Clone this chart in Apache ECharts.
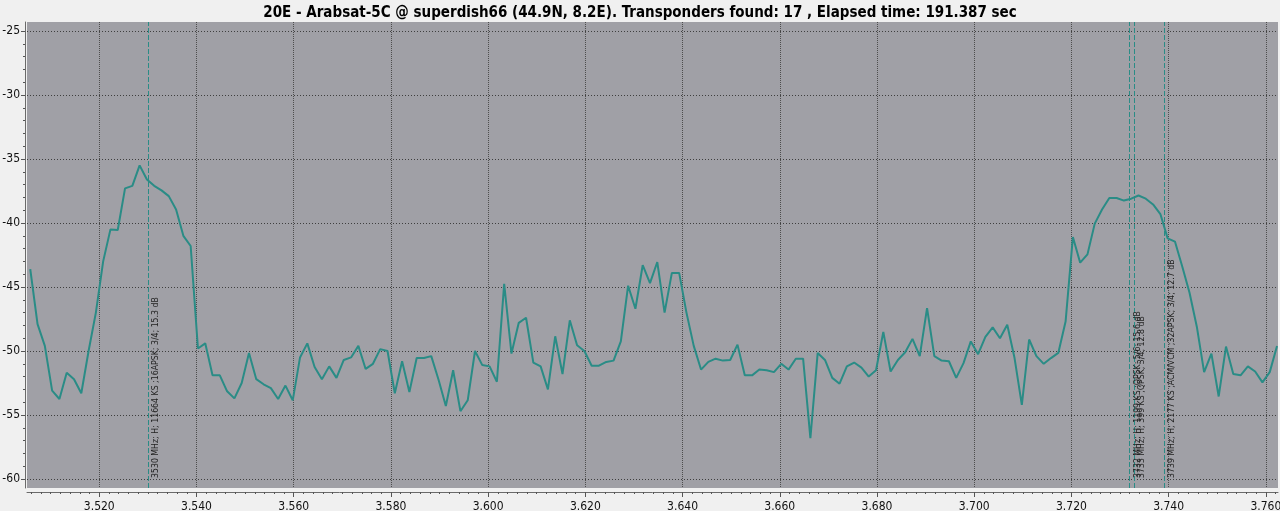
<!DOCTYPE html>
<html>
<head>
<meta charset="utf-8">
<script src="https://cdn.jsdelivr.net/npm/echarts@6/dist/echarts.min.js"></script>
<style>
html,body{margin:0;padding:0;background:#f0f0f0;}
#chart{width:1280px;height:511px;}
</style>
</head>
<body>
<div id="chart"></div>
<script>
// Sweep frequencies (MHz)
const freqMHz = [
3505.8,3507.3,3508.8,3510.3,3511.8,3513.3,3514.8,3516.3,3517.8,3519.3,
3520.8,3522.3,3523.8,3525.3,3526.8,3528.3,3529.8,3531.3,3532.8,3534.3,
3535.8,3537.3,3538.8,3540.3,3541.8,3543.3,3544.8,3546.3,3547.8,3549.3,
3550.8,3552.3,3553.8,3555.3,3556.8,3558.3,3559.8,3561.3,3562.8,3564.3,
3565.8,3567.3,3568.8,3570.3,3571.8,3573.3,3574.8,3576.3,3577.8,3579.3,
3580.8,3582.3,3583.8,3585.3,3586.8,3588.3,3589.8,3591.3,3592.8,3594.3,
3595.8,3597.3,3598.8,3600.3,3601.8,3603.3,3604.8,3606.3,3607.8,3609.3,
3610.8,3612.3,3613.8,3615.3,3616.8,3618.3,3619.8,3621.3,3622.8,3624.3,
3625.8,3627.3,3628.8,3630.3,3631.8,3633.3,3634.8,3636.3,3637.8,3639.3,
3640.8,3642.3,3643.8,3645.3,3646.8,3648.3,3649.8,3651.3,3652.8,3654.3,
3655.8,3657.3,3658.8,3660.3,3661.8,3663.3,3664.8,3666.3,3667.8,3669.3,
3670.8,3672.3,3673.8,3675.3,3676.8,3678.3,3679.8,3681.3,3682.8,3684.3,
3685.8,3687.3,3688.8,3690.3,3691.8,3693.3,3694.8,3696.3,3697.8,3699.3,
3700.8,3702.3,3703.8,3705.3,3706.8,3708.3,3709.8,3711.3,3712.8,3714.3,
3715.8,3717.3,3718.8,3720.3,3721.8,3723.3,3724.8,3726.3,3727.8,3729.3,
3730.8,3732.3,3733.8,3735.3,3736.8,3738.3,3739.8,3741.3,3742.8,3744.3,
3745.8,3747.3,3748.8,3750.3,3751.8,3753.3,3754.8,3756.3,3757.8,3759.3,
3760.8,3762.3
];
// Level (dB)
const levelDb = [
-43.6,-47.9,-49.6,-53.1,-53.75,-51.7,-52.2,-53.3,-50.0,-47.0,
-43.0,-40.5,-40.55,-37.3,-37.1,-35.5,-36.6,-37.1,-37.45,-37.9,
-38.95,-41.0,-41.8,-49.8,-49.4,-51.9,-51.9,-53.15,-53.7,-52.5,
-50.15,-52.2,-52.6,-52.9,-53.75,-52.7,-53.85,-50.5,-49.4,-51.25,
-52.2,-51.2,-52.1,-50.7,-50.5,-49.6,-51.4,-51.0,-49.85,-50.0,
-53.3,-50.8,-53.2,-50.55,-50.55,-50.4,-52.25,-54.3,-51.5,-54.7,
-53.85,-50.0,-51.1,-51.2,-52.4,-44.75,-50.2,-47.8,-47.4,-50.9,
-51.2,-53.0,-48.85,-51.8,-47.6,-49.55,-50.0,-51.15,-51.15,-50.85,
-50.75,-49.25,-44.9,-46.7,-43.3,-44.7,-43.05,-47.0,-43.9,-43.9,
-47.0,-49.6,-51.45,-50.85,-50.6,-50.75,-50.7,-49.5,-51.9,-51.9,
-51.45,-51.5,-51.65,-51.0,-51.45,-50.6,-50.6,-56.8,-50.15,-50.7,
-52.1,-52.55,-51.2,-50.9,-51.3,-52.0,-51.5,-48.5,-51.6,-50.7,
-50.1,-49.05,-50.4,-46.65,-50.4,-50.75,-50.8,-52.1,-50.95,-49.25,
-50.25,-48.9,-48.15,-49.0,-47.95,-50.55,-54.2,-49.1,-50.4,-51.0,
-50.55,-50.15,-47.7,-41.1,-43.1,-42.45,-40.05,-38.95,-38.05,-38.05,
-38.25,-38.1,-37.85,-38.1,-38.55,-39.3,-41.2,-41.45,-43.4,-45.45,
-48.1,-51.65,-50.2,-53.55,-49.65,-51.8,-51.9,-51.2,-51.6,-52.45,
-51.65,-49.6
];
// Transponders found (markers)
const markerFreqMHz = [3530, 3732, 3733, 3739];
const markerLabels = [
  '3530 MHz; H; 11664 KS ;16APSK; 3/4; 15.3 dB',
  '3732 MHz; H; 1199 KS ;QPSK; 5/6; 15.6 dB',
  '3733 MHz; H; 399 KS ;QPSK; 3/4; 12.8 dB',
  '3739 MHz; H; 2177 KS ;ACM/VCM ;32APSK; 3/4; 12.7 dB'
];
// Axis ticks
const xMajorTicks = [3520,3540,3560,3580,3600,3620,3640,3660,3680,3700,3720,3740,3760];
const yMajorTicks = [-60,-55,-50,-45,-40,-35,-30,-25];
const titleText = '20E - Arabsat-5C @ superdish66 (44.9N, 8.2E). Transponders found: 17 , Elapsed time: 191.387 sec';

const xMinorTicks = [];
for (let v = 3506; v <= 3762; v += 2) xMinorTicks.push(v);
const yMinorTicks = [];
for (let v = -60; v <= -25; v += 1) yMinorTicks.push(v);

const X_MIN = 3505.13, X_MAX = 3762.5, Y_MIN = -60.7, Y_MAX = -24.3;
const FONT = "'DejaVu Sans Condensed','DejaVu Sans','Liberation Sans',sans-serif";
const TEAL = '#2a8c86';

const seriesData = freqMHz.map((f, i) => [f, levelDb[i]]);
const markData = markerFreqMHz.map((f, i) => ({
  xAxis: f,
  label: { formatter: markerLabels[i] }
}));

const chart = echarts.init(document.getElementById('chart'));
chart.setOption({
  backgroundColor: '#f0f0f0',
  animation: false,
  title: {
    text: titleText,
    left: 'center',
    top: 1,
    textStyle: { fontFamily: FONT, fontWeight: 'bold', fontSize: 15, color: '#000' }
  },
  grid: {
    left: 27, right: 2, top: 22, bottom: 23,
    outerBoundsMode: 'none',
    containLabel: false,
    show: true, backgroundColor: '#a0a0a6', borderWidth: 0
  },
  xAxis: [{
    type: 'value', min: X_MIN, max: X_MAX, position: 'bottom', offset: 4,
    axisLine: { show: true, lineStyle: { color: '#6a6a6a', width: 1 } },
    axisTick: { show: true, length: 5, customValues: xMajorTicks, lineStyle: { color: '#555' } },
    axisLabel: {
      customValues: xMajorTicks, margin: 9, color: '#111', fontSize: 12, fontFamily: FONT,
      formatter: v => (v / 1000).toFixed(3)
    },
    splitLine: { show: true, lineStyle: { color: '#4d4d4d', type: [1, 1], width: 1 } }
  }, {
    type: 'value', min: X_MIN, max: X_MAX, position: 'bottom', offset: 4,
    axisLine: { show: false },
    axisTick: { show: true, length: 2, customValues: xMinorTicks, lineStyle: { color: '#555' } },
    axisLabel: { show: false },
    splitLine: { show: false }
  }],
  yAxis: [{
    type: 'value', min: Y_MIN, max: Y_MAX, position: 'left', offset: 2,
    axisLine: { show: true, lineStyle: { color: '#6a6a6a', width: 1 } },
    axisTick: { show: true, length: 4, customValues: yMajorTicks, lineStyle: { color: '#555' } },
    axisLabel: { customValues: yMajorTicks, margin: 5, color: '#111', fontSize: 12, fontFamily: FONT },
    splitLine: { show: true, lineStyle: { color: '#3f3f3f', type: [1, 2], width: 1 } }
  }, {
    type: 'value', min: Y_MIN, max: Y_MAX, position: 'left', offset: 2,
    axisLine: { show: false },
    axisTick: { show: true, length: 2, customValues: yMinorTicks, lineStyle: { color: '#555' } },
    axisLabel: { show: false },
    splitLine: { show: false }
  }],
  series: [{
    type: 'line',
    data: seriesData,
    xAxisIndex: 0, yAxisIndex: 0,
    showSymbol: false,
    smooth: false,
    lineStyle: { color: TEAL, width: 2 },
    itemStyle: { color: TEAL },
    markLine: {
      silent: true,
      symbol: ['none', 'none'],
      lineStyle: { color: TEAL, width: 1, type: [5, 2] },
      label: {
        show: true,
        position: 'insideStartBottom',
        distance: [10, 3],
        color: '#222',
        fontSize: 8.7,
        fontFamily: FONT
      },
      data: markData
    }
  }]
});
</script>
</body>
</html>
